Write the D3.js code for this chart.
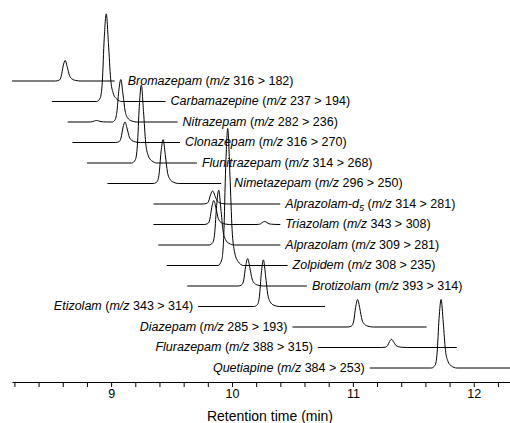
<!DOCTYPE html>
<html>
<head>
<meta charset="utf-8">
<script src="https://cdn.jsdelivr.net/npm/d3@7"></script>
<style>
  body { margin: 0; background: #fff; }
  svg { font-family: "Liberation Sans", Arial, sans-serif; }
</style>
</head>
<body>
<main></main>
<script>
// chromatogram traces, top to bottom
const compounds = ["Bromazepam", "Carbamazepine", "Nitrazepam", "Clonazepam", "Flunitrazepam",
  "Nimetazepam", "Alprazolam-d5", "Triazolam", "Alprazolam", "Zolpidem", "Brotizolam",
  "Etizolam", "Diazepam", "Flurazepam", "Quetiapine"];
const transitions = ["316 > 182", "237 > 194", "282 > 236", "316 > 270", "314 > 268",
  "296 > 250", "314 > 281", "343 > 308", "309 > 281", "308 > 235", "393 > 314",
  "343 > 314", "285 > 193", "388 > 315", "384 > 253"];
// time window of each trace (min)
const traceStart = [8.18, 8.51, 8.64, 8.68, 8.80, 8.97, 9.35, 9.35, 9.39, 9.46, 9.63, 9.72, 10.50, 10.71, 11.14];
const traceEnd   = [9.03, 9.45, 9.55, 9.57, 9.71, 9.91, 10.40, 10.40, 10.40, 10.46, 10.62, 10.77, 11.61, 11.86, 12.30];
// main peak: retention time (min) and relative height
const peakTime   = [8.62, 8.96, 9.08, 9.115, 9.25, 9.43, 9.84, 9.85, 9.89, 9.965, 10.13, 10.26, 11.04, 11.32, 11.73];
const peakHeight = [15, 64, 31, 15, 57, 32, 9.5, 17.5, 40, 100, 20, 34, 20, 6, 50];
const labelSide  = ["right", "right", "right", "right", "right", "right", "right", "right",
  "right", "right", "right", "left", "left", "left", "left"];

// small extra bumps
const bumpTrace  = ["Nitrazepam", "Triazolam"];
const bumpTime   = [8.88, 10.27];
const bumpHeight = [1.1, 2.2];

// peak shape (offset in min, fraction of apex)
const profileDt  = [-0.08, -0.05, -0.033, -0.017, 0, 0.018, 0.036, 0.056, 0.085, 0.13];
const profileRel = [0, 0.04, 0.22, 0.72, 1, 0.66, 0.26, 0.1, 0.03, 0];

const tickValues = [8.2, 8.4, 8.6, 8.8, 9, 9.2, 9.4, 9.6, 9.8, 10, 10.2, 10.4, 10.6, 10.8,
  11, 11.2, 11.4, 11.6, 11.8, 12, 12.2];
const tickLabels = [9, 10, 11, 12];

const width = 510, height = 423;

const svg = d3.select("main")
  .append("svg")
  .attr("width", width)
  .attr("height", height);

const x = d3.scaleLinear().domain([8.18, 12.3]).range([12, 510]);
const baseY = d3.scalePoint().domain(compounds).range([81, 368]);
const h = d3.scaleLinear().domain([0, 100]).range([0, 137]);

function tracePoints(i) {
  const name = compounds[i];
  const peaks = [[peakTime[i], peakHeight[i]]];
  bumpTrace.forEach((b, j) => { if (b === name) peaks.push([bumpTime[j], bumpHeight[j]]); });
  const pts = [[traceStart[i], 0], [traceEnd[i], 0]];
  peaks.forEach(p => {
    profileDt.forEach((dt, k) => {
      const t = p[0] + dt;
      if (t > traceStart[i] && t < traceEnd[i]) pts.push([t, p[1] * profileRel[k]]);
    });
  });
  return pts.sort((a, b) => a[0] - b[0]);
}

const line = d3.line()
  .curve(d3.curveMonotoneX);

compounds.forEach((name, i) => {
  const y0 = baseY(name);
  svg.append("path")
    .attr("class", "trace")
    .attr("fill", "none")
    .attr("stroke", "#000")
    .attr("stroke-width", 1)
    .attr("d", line.x(d => x(d[0])).y(d => y0 - h(d[1]))(tracePoints(i)));
});

// labels
const wideGap = { "Bromazepam": 13, "Nimetazepam": 13 };
compounds.forEach((name, i) => {
  const gap = wideGap[name] || 5;
  const right = labelSide[i] === "right";
  const label = svg.append("text")
    .attr("x", right ? x(traceEnd[i]) + gap : x(traceStart[i]) - gap)
    .attr("y", baseY(name))
    .attr("dy", "0.3em")
    .attr("text-anchor", right ? "start" : "end")
    .attr("font-size", 12.5)
    .attr("fill", "#000");
  if (name === "Alprazolam-d5") {
    label.append("tspan").attr("font-style", "italic").text("Alprazolam-d");
    label.append("tspan").attr("font-style", "italic").attr("font-size", 9)
      .attr("dy", 3).text("5");
    label.append("tspan").attr("dy", -3).text(" (");
  } else {
    label.append("tspan").attr("font-style", "italic").text(name);
    label.append("tspan").text(" (");
  }
  label.append("tspan").attr("font-style", "italic").text("m/z");
  label.append("tspan").text(" " + transitions[i] + ")");
});

// x axis
const xAxis = d3.axisBottom(x)
  .tickValues(tickValues)
  .tickSize(5)
  .tickSizeOuter(0)
  .tickPadding(2)
  .tickFormat(d => tickLabels.includes(Math.round(d * 10) / 10) ? d3.format("d")(d) : "");

svg.append("g")
  .attr("id", "x-axis")
  .attr("transform", "translate(0,382)")
  .call(xAxis)
  .attr("font-family", '"Liberation Sans", Arial, sans-serif')
  .attr("font-size", 12.5);

svg.append("text")
  .text("Retention time (min)")
  .attr("x", 270)
  .attr("y", 421)
  .attr("text-anchor", "middle")
  .attr("font-size", 14);
</script>
</body>
</html>
